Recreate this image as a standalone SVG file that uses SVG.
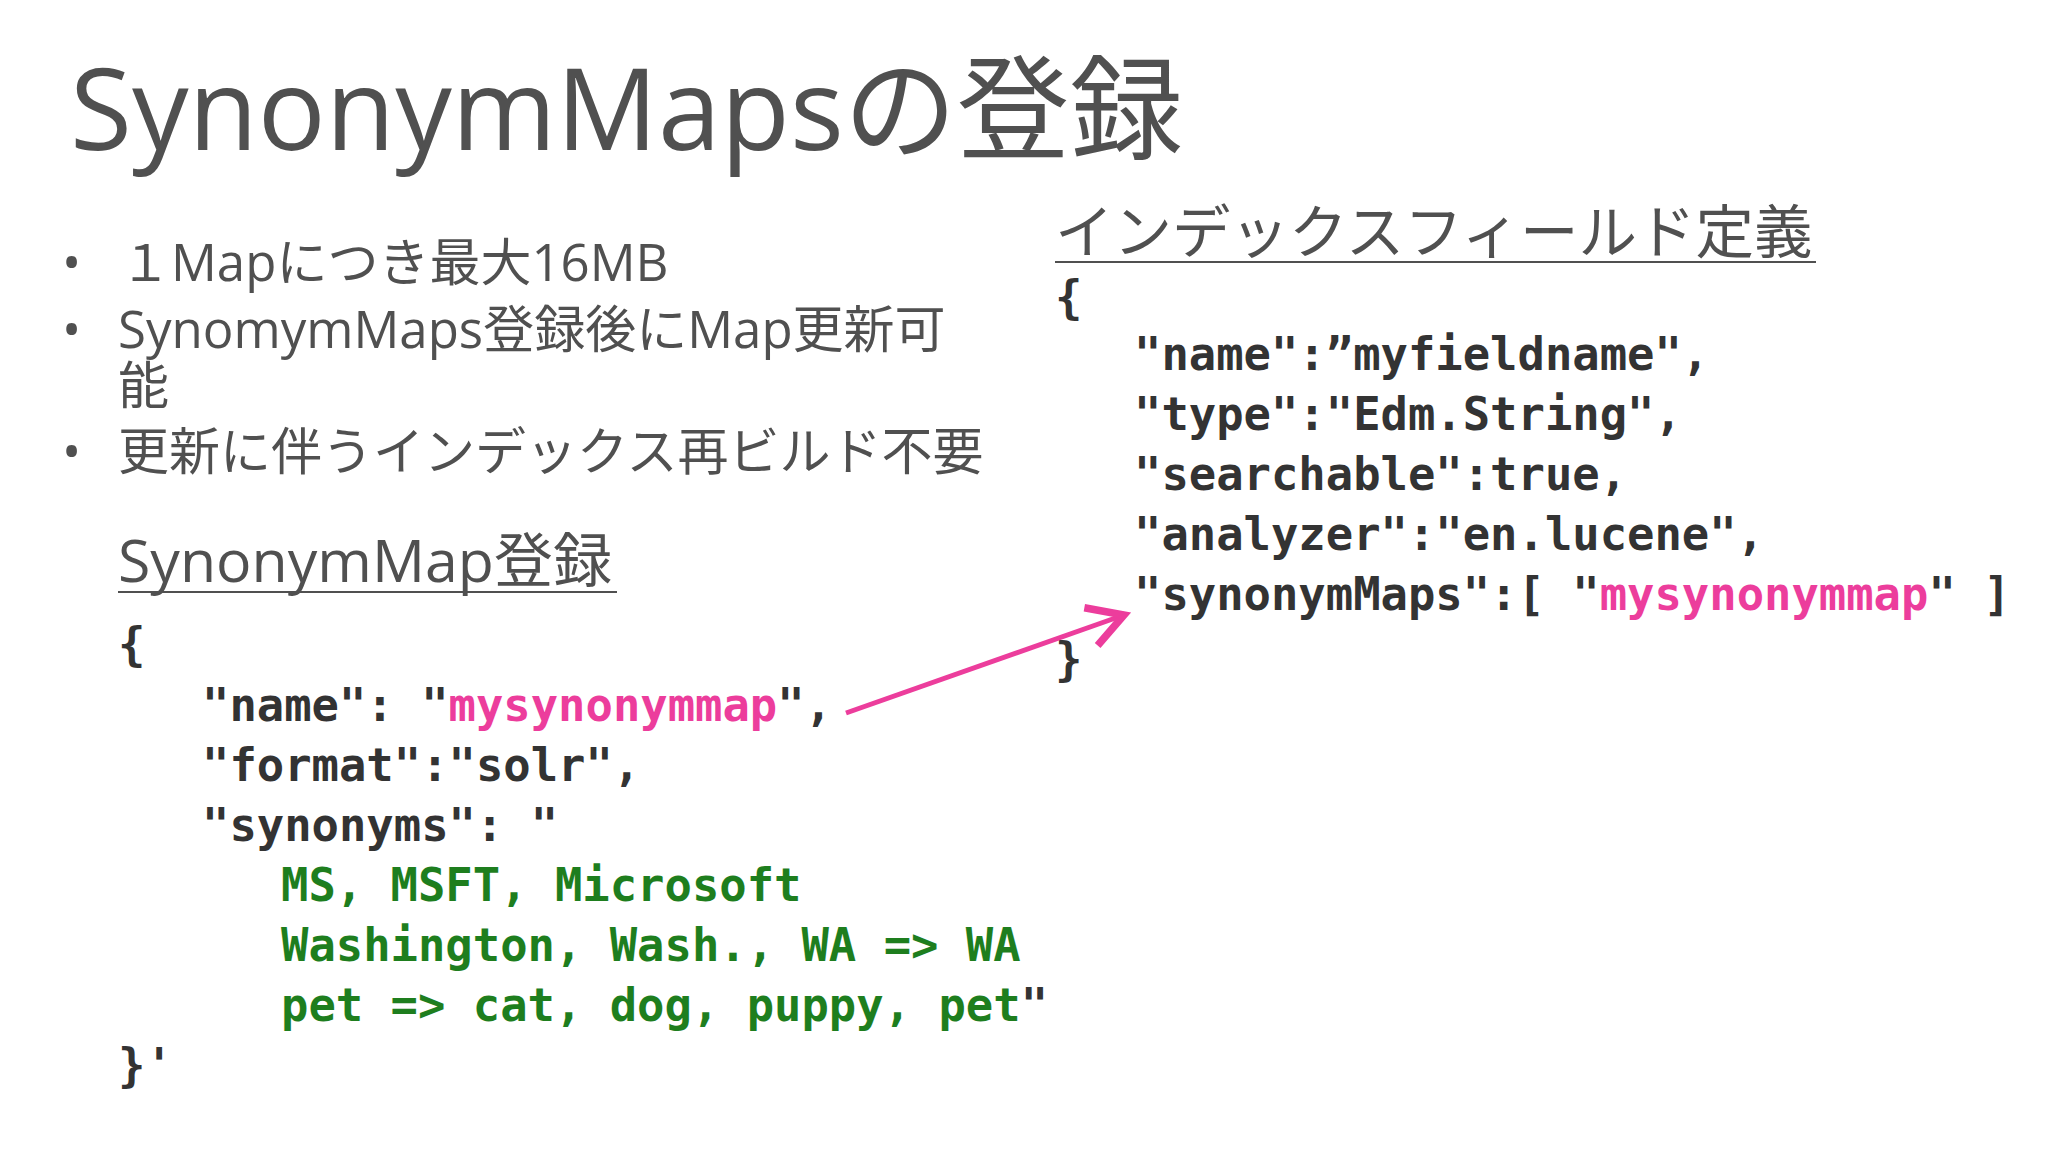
<svg xmlns="http://www.w3.org/2000/svg" width="2048" height="1152" viewBox="0 0 2048 1152">
<style>
.t{font-family:"Segoe UI","Open Sans","Noto Sans","Noto Sans CJK JP",sans-serif;fill:#505050}
.c{font-family:"DejaVu Sans Mono","Liberation Mono","Noto Sans CJK JP",monospace;font-weight:bold;font-size:45.5px;fill:#333}
.p{fill:#ec3d9c}.g{fill:#1e7e1e}
</style>
<defs><marker id="ah" markerWidth="10" markerHeight="10" refX="8" refY="5" orient="auto" markerUnits="strokeWidth"><path d="M1,1 L8,5 L1,9" fill="none" stroke="#ec3d9c" stroke-width="1.5"/></marker></defs>
<rect width="2048" height="1152" fill="#fff"/>
<g id="title"><text class="t" x="70" y="150" font-size="113">SynonymMapsの登録</text></g>
<g id="bullets" class="t" font-size="51">
<text x="62" y="281">•</text><text x="120" y="281"> １Mapにつき最大16MB</text>
<text x="62" y="348">•</text><text x="118" y="348">SynomymMaps登録後にMap更新可</text>
<text x="118" y="404">能</text>
<text x="62" y="470">•</text><text x="118" y="470">更新に伴うインデックス再ビルド不要</text>
</g>
<g id="left">
<text class="t" x="118" y="582" font-size="59">SynonymMap登録</text>
<line x1="118" y1="592" x2="617" y2="592" stroke="#505050" stroke-width="2"/>
<text class="c" x="118" y="660">{</text>
<text class="c" x="202" y="721">"name": "<tspan class="p">mysynonymmap</tspan>",</text>
<text class="c" x="202" y="781">"format":"solr",</text>
<text class="c" x="202" y="841">"synonyms": "</text>
<text class="c g" x="281" y="901">MS, MSFT, Microsoft</text>
<text class="c g" x="281" y="961">Washington, Wash., WA =&gt; WA</text>
<text class="c" x="281" y="1021"><tspan class="g">pet =&gt; cat, dog, puppy, pet</tspan>"</text>
<text class="c" x="118" y="1081">}'</text>
</g>
<g id="right">
<text class="t" x="1055" y="253" font-size="58.5">インデックスフィールド定義</text>
<line x1="1055" y1="262" x2="1816" y2="262" stroke="#505050" stroke-width="2"/>
<text class="c" x="1055" y="313">{</text>
<text class="c" x="1134" y="370">"name":”myfieldname",</text>
<text class="c" x="1134" y="430">"type":"Edm.String",</text>
<text class="c" x="1134" y="490">"searchable":true,</text>
<text class="c" x="1134" y="550">"analyzer":"en.lucene",</text>
<text class="c" x="1134" y="610">"synonymMaps":[ "<tspan class="p">mysynonymmap</tspan>" ]</text>
<text class="c" x="1055" y="675">}</text>
</g>
<g id="connectors"><line x1="846" y1="713" x2="1124" y2="615" stroke="#ec3d9c" stroke-width="5" marker-end="url(#ah)"/></g>
</svg>
